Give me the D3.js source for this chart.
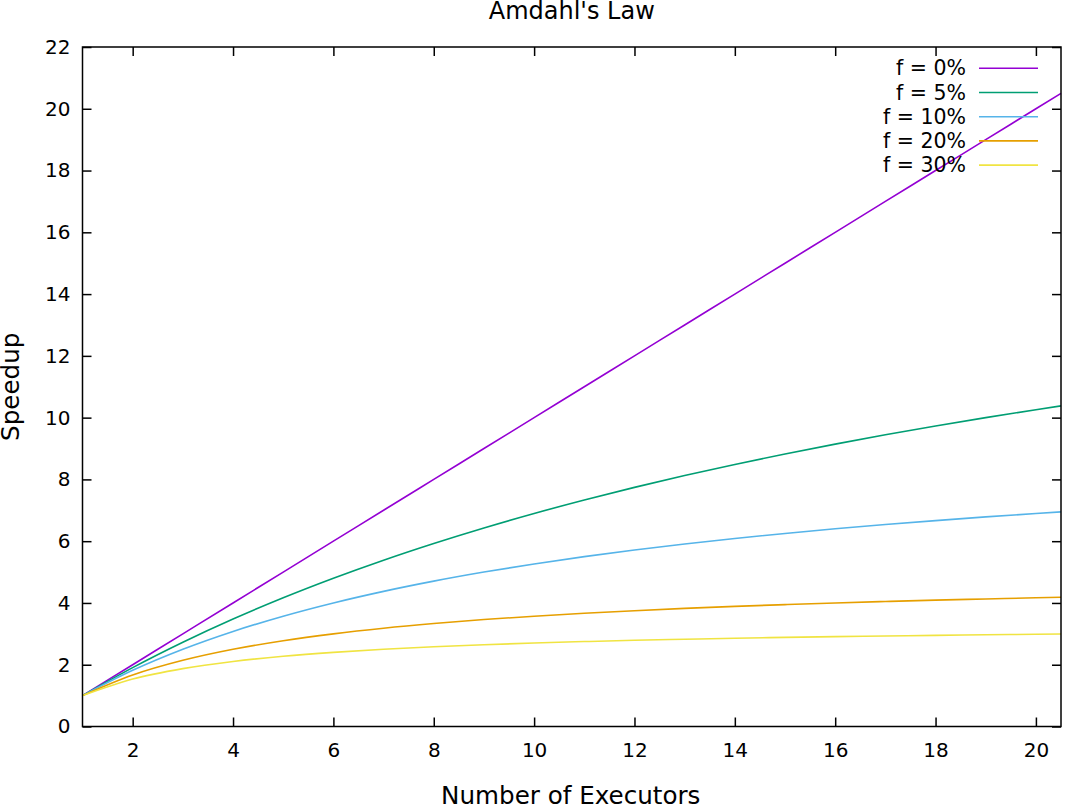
<!DOCTYPE html>
<html>
<head>
<meta charset="utf-8">
<script src="https://cdnjs.cloudflare.com/ajax/libs/d3/7.8.5/d3.min.js"></script>
<style>
	body { margin: 0; background: #fff; }
	svg { display: block; }
	text { font-family: "DejaVu Sans", sans-serif; fill: #000; }
</style>
</head>
<body>
<svg id="chart"></svg>
<script>
	// Values (speedup at each executor count)
	var executors = [1, 2, 3, 4, 5, 6, 7, 8, 9, 10, 11, 12, 13, 14, 15, 16, 17, 18, 19, 20, 20.5];
	var speedup_f0 = [1, 2, 3, 4, 5, 6, 7, 8, 9, 10, 11, 12, 13, 14, 15, 16, 17, 18, 19, 20, 20.5];
	var speedup_f5 = [1, 1.905, 2.727, 3.478, 4.167, 4.8, 5.385, 5.926, 6.429, 6.897, 7.333, 7.742, 8.125, 8.485, 8.824, 9.143, 9.444, 9.73, 10, 10.256, 10.38];
	var speedup_f10 = [1, 1.818, 2.5, 3.077, 3.571, 4, 4.375, 4.706, 5, 5.263, 5.5, 5.714, 5.909, 6.087, 6.25, 6.4, 6.538, 6.667, 6.786, 6.897, 6.949];
	var speedup_f20 = [1, 1.667, 2.143, 2.5, 2.778, 3, 3.182, 3.333, 3.462, 3.571, 3.667, 3.75, 3.824, 3.889, 3.947, 4, 4.048, 4.091, 4.13, 4.167, 4.184];
	var speedup_f30 = [1, 1.538, 1.875, 2.105, 2.273, 2.4, 2.5, 2.581, 2.647, 2.703, 2.75, 2.791, 2.826, 2.857, 2.885, 2.909, 2.931, 2.951, 2.969, 2.985, 2.993];

	var labels = ['f = 0%', 'f = 5%', 'f = 10%', 'f = 20%', 'f = 30%'];
	var colors = ['#9400d3', '#009e73', '#56b4e9', '#e69f00', '#f0e442'];
	var series = [speedup_f0, speedup_f5, speedup_f10, speedup_f20, speedup_f30];

	var x_ticks = [2, 4, 6, 8, 10, 12, 14, 16, 18, 20];
	var y_ticks = [0, 2, 4, 6, 8, 10, 12, 14, 16, 18, 20, 22];

	var width = 1065, height = 807;
	var margin = {top: 47, right: 4, bottom: 80.5, left: 82.5};
	var plot_w = width - margin.left - margin.right,
		plot_h = height - margin.top - margin.bottom;

	var axis_x = d3.scaleLinear().domain([1, 20.5]).range([0, plot_w]);
	var axis_y = d3.scaleLinear().domain([0, 22]).range([plot_h, 0]);
	var tick_len = 9;

	var svg = d3.select('#chart')
		.attr('width', width)
		.attr('height', height);

	var g = svg.append('g')
		.attr('transform', 'translate(' + margin.left + ',' + margin.top + ')');

	// Axes (gnuplot style: inward ticks, mirrored)
	var styleAxis = function(sel) {
		sel.select('.domain').remove();
		sel.selectAll('.tick line').attr('stroke', '#000').attr('stroke-width', 1.5);
		sel.selectAll('.tick text').attr('font-family', null).attr('font-size', null)
			.style('font-size', '20px');
	};

	g.append('g')
		.attr('transform', 'translate(0,' + plot_h + ')')
		.call(d3.axisBottom(axis_x).tickValues(x_ticks).tickSize(-tick_len).tickPadding(16))
		.call(styleAxis);

	g.append('g')
		.call(d3.axisTop(axis_x).tickValues(x_ticks).tickSize(-tick_len).tickFormat(''))
		.call(styleAxis);

	g.append('g')
		.call(d3.axisLeft(axis_y).tickValues(y_ticks).tickSize(-tick_len).tickPadding(12))
		.call(styleAxis);

	g.append('g')
		.attr('transform', 'translate(' + plot_w + ',0)')
		.call(d3.axisRight(axis_y).tickValues(y_ticks).tickSize(-tick_len).tickFormat(''))
		.call(styleAxis);

	// Lines
	var line = d3.line()
		.x(function(d, i) { return axis_x(executors[i]); })
		.y(function(d) { return axis_y(d); })
		.curve(d3.curveMonotoneX);

	series.forEach(function(s, k) {
		g.append('path')
			.datum(s)
			.attr('fill', 'none')
			.attr('stroke', colors[k])
			.attr('stroke-width', 1.6)
			.attr('d', line);
	});

	// Legend
	var legend = g.append('g').attr('transform', 'translate(' + (966 - margin.left) + ',' + (68.3 - margin.top) + ')');
	labels.forEach(function(l, k) {
		var row = legend.append('g').attr('transform', 'translate(0,' + (k * 24.2) + ')');
		row.append('text')
			.attr('text-anchor', 'end')
			.attr('dy', '0.35em')
			.style('font-size', '20.5px')
			.text(l);
		row.append('line')
			.attr('x1', 13).attr('x2', 72)
			.attr('stroke', colors[k])
			.attr('stroke-width', 1.6);
	});

	// Frame
	g.append('rect')
		.attr('width', plot_w)
		.attr('height', plot_h)
		.attr('fill', 'none')
		.attr('stroke', '#000')
		.attr('stroke-width', 1.5);

	// Titles
	var cx = margin.left + plot_w / 2;
	svg.append('text')
		.attr('x', cx)
		.attr('y', 19)
		.attr('text-anchor', 'middle')
		.style('font-size', '24px')
		.text("Amdahl's Law");

	svg.append('text')
		.attr('x', cx - 1)
		.attr('y', 804)
		.attr('text-anchor', 'middle')
		.style('font-size', '24.6px')
		.text('Number of Executors');

	svg.append('text')
		.attr('transform', 'rotate(-90)')
		.attr('x', -(margin.top + plot_h / 2))
		.attr('y', 18.5)
		.attr('text-anchor', 'middle')
		.style('font-size', '24.6px')
		.text('Speedup');
</script>
</body>
</html>
